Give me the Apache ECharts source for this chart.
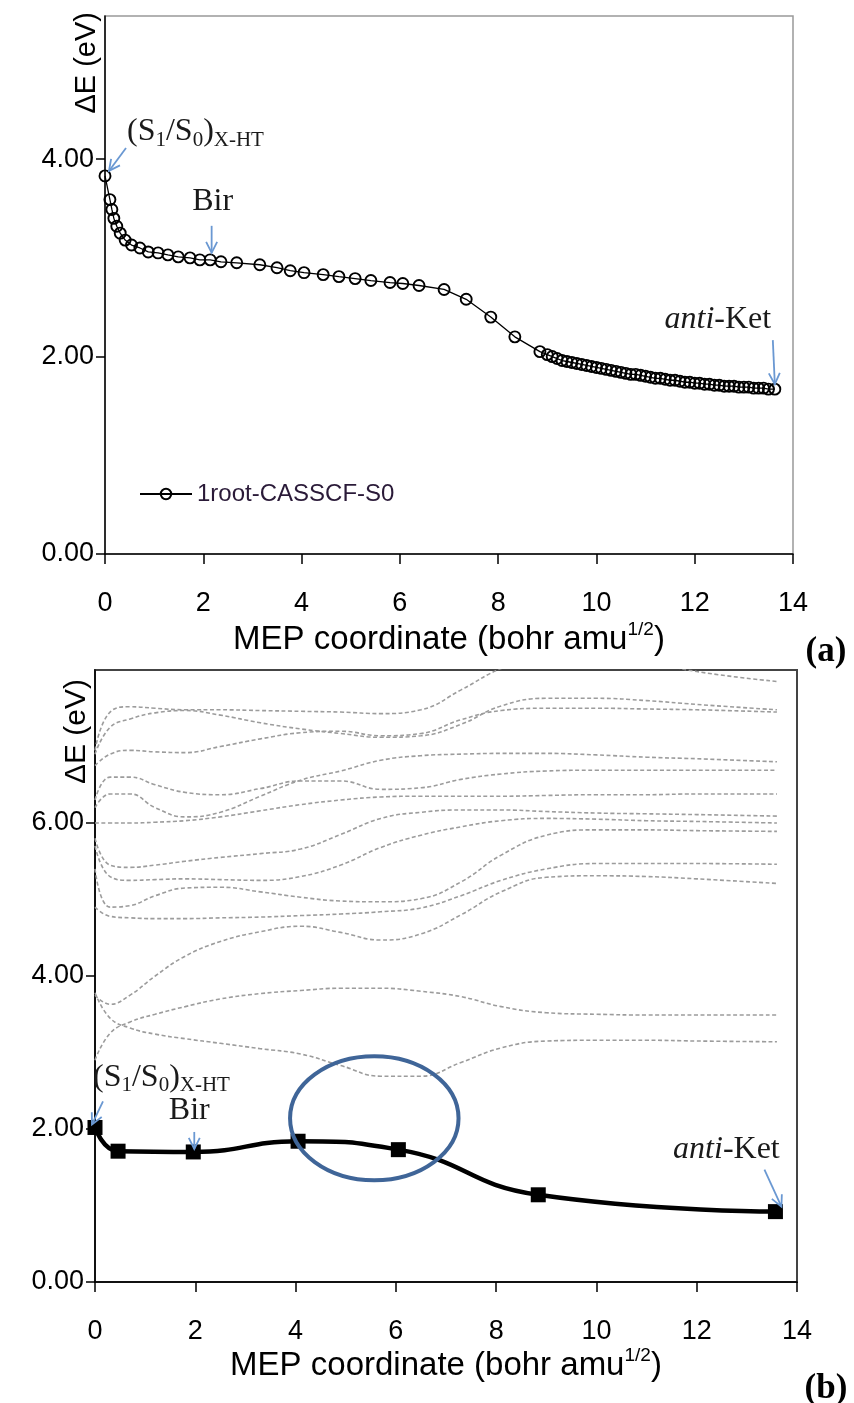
<!DOCTYPE html>
<html><head><meta charset="utf-8">
<script src="https://cdn.jsdelivr.net/npm/echarts@6/dist/echarts.min.js"></script>
<style>html,body{margin:0;padding:0;background:#fff}#c{width:854px;height:1403px}</style>
</head><body><div id="c"></div>
<script>
// ---------- DATA ----------
// Panel (a): 1root-CASSCF-S0 MEP
const topX = [0, 0.10, 0.14, 0.18, 0.24, 0.31, 0.41, 0.54, 0.71, 0.88, 1.08, 1.28, 1.49, 1.73, 1.93, 2.14, 2.36, 2.68,
  3.15, 3.50, 3.77, 4.05, 4.44, 4.76, 5.09, 5.41, 5.80, 6.06, 6.39, 6.90, 7.35, 7.85, 8.34, 8.85,
  9.0, 9.1, 9.2, 9.3, 9.4, 9.5, 9.6, 9.7, 9.8, 9.9, 10.0, 10.1, 10.2, 10.3, 10.4, 10.5, 10.6, 10.7, 10.8, 10.9,
  11.0, 11.1, 11.2, 11.3, 11.4, 11.5, 11.6, 11.7, 11.8, 11.9, 12.0, 12.1, 12.2, 12.3, 12.4, 12.5, 12.6, 12.7,
  12.8, 12.9, 13.0, 13.1, 13.2, 13.3, 13.4, 13.5, 13.63];
const topS0 = [3.83, 3.59, 3.49, 3.40, 3.32, 3.25, 3.18, 3.13, 3.10, 3.06, 3.05, 3.03, 3.01, 3.00, 2.98, 2.98, 2.96, 2.95,
  2.93, 2.90, 2.87, 2.85, 2.83, 2.81, 2.79, 2.77, 2.75, 2.74, 2.72, 2.68, 2.58, 2.40, 2.20, 2.05,
  2.02, 2.00, 1.98, 1.96, 1.95, 1.94, 1.93, 1.92, 1.91, 1.90, 1.89, 1.88, 1.87, 1.86, 1.85, 1.84, 1.83, 1.82, 1.82, 1.81,
  1.80, 1.79, 1.78, 1.78, 1.77, 1.76, 1.76, 1.75, 1.74, 1.74, 1.73, 1.73, 1.72, 1.72, 1.71, 1.71, 1.70, 1.70,
  1.70, 1.69, 1.69, 1.69, 1.68, 1.68, 1.68, 1.67, 1.67];

// Panel (b): highlighted state (black squares)
const botX = [0, 0.46, 1.96, 4.05, 6.05, 8.84, 13.57];
const botS1 = [2.02, 1.71, 1.70, 1.84, 1.73, 1.14, 0.92];

// Panel (b): other states (grey dashed), sampled at dashX
const dashX = [0, 0.3, 0.7, 1.2, 1.8, 2.5, 3.3, 4.1, 4.9, 5.7, 6.5, 7.3, 8.1, 9.0, 10.0, 11.0, 12.0, 13.6];
const stateU1 = [6.95, 7.45, 7.52, 7.50, 7.48, 7.48, 7.47, 7.46, 7.45, 7.43, 7.48, 7.74, 8.02, 8.20, 8.25, 8.12, 7.98, 7.85];
const stateU2 = [6.90, 7.25, 7.36, 7.44, 7.47, 7.41, 7.31, 7.23, 7.17, 7.12, 7.14, 7.29, 7.53, 7.63, 7.63, 7.60, 7.55, 7.48];
const stateU3 = [6.75, 6.90, 6.95, 6.93, 6.92, 7.00, 7.10, 7.18, 7.20, 7.14, 7.17, 7.35, 7.47, 7.50, 7.50, 7.49, 7.48, 7.45];
const stateM1 = [6.20, 6.38, 6.38, 6.20, 6.08, 6.14, 6.35, 6.56, 6.68, 6.82, 6.88, 6.90, 6.91, 6.91, 6.89, 6.86, 6.84, 6.80];
const stateM2 = [6.30, 6.60, 6.60, 6.50, 6.40, 6.37, 6.45, 6.55, 6.55, 6.44, 6.46, 6.57, 6.64, 6.68, 6.69, 6.69, 6.69, 6.69];
const stateM3 = [6.00, 6.00, 6.00, 6.01, 6.03, 6.08, 6.16, 6.24, 6.30, 6.34, 6.35, 6.35, 6.35, 6.36, 6.37, 6.37, 6.38, 6.38];
const stateM4 = [5.80, 5.45, 5.42, 5.45, 5.50, 5.55, 5.60, 5.66, 5.85, 6.06, 6.14, 6.17, 6.17, 6.15, 6.13, 6.12, 6.11, 6.09];
const stateM5 = [5.70, 5.30, 5.25, 5.26, 5.27, 5.26, 5.25, 5.30, 5.45, 5.68, 5.84, 5.95, 6.03, 6.06, 6.05, 6.03, 6.02, 6.00];
const stateM6 = [5.40, 4.90, 4.92, 5.05, 5.15, 5.16, 5.10, 5.03, 4.98, 4.97, 5.01, 5.23, 5.58, 5.84, 5.91, 5.91, 5.90, 5.89];
const stateM7 = [4.90, 4.78, 4.76, 4.75, 4.75, 4.76, 4.77, 4.79, 4.81, 4.84, 4.89, 5.05, 5.25, 5.40, 5.47, 5.47, 5.47, 5.46];
const stateM8 = [3.75, 3.63, 3.75, 4.00, 4.26, 4.45, 4.58, 4.65, 4.57, 4.47, 4.55, 4.80, 5.10, 5.29, 5.31, 5.30, 5.27, 5.21];
const stateP  = [2.90, 3.25, 3.40, 3.50, 3.60, 3.70, 3.77, 3.81, 3.84, 3.84, 3.80, 3.73, 3.60, 3.52, 3.50, 3.49, 3.49, 3.49];
const stateQ  = [3.78, 3.45, 3.32, 3.24, 3.18, 3.12, 3.05, 2.98, 2.83, 2.69, 2.69, 2.87, 3.06, 3.15, 3.16, 3.16, 3.15, 3.14];

// Ticks
const xTicks = [0, 2, 4, 6, 8, 10, 12, 14];
const yTicksTop = [0, 2, 4];
const yTicksBot = [0, 2, 4, 6];

// Annotation anchors (data coords)
const annoTop = { xht: [0, 3.83], bir: [2.17, 2.98], ket: [13.63, 1.67] };
const annoBot = { xht: [0, 2.02], bir: [1.96, 1.70], ket: [13.57, 0.92] };
const ellipseCenter = [5.57, 2.14], ellipseRadii = [1.68, 0.81];

// ---------- CHART ----------
const SANS = 'Liberation Sans', SERIF = 'Liberation Serif';
const chart = echarts.init(document.getElementById('c'), null, { renderer: 'canvas' });

function xAxisCfg(gi, gap) {
  return {
    gridIndex: gi, type: 'value', min: 0, max: 14, interval: 2,
    axisLine: { show: true, onZero: false, lineStyle: { color: '#000', width: 1.5 } },
    axisTick: { show: true, length: 10, lineStyle: { color: '#000', width: 1.5 }, customValues: xTicks },
    axisLabel: { margin: 36, fontSize: 27, fontFamily: SANS, color: '#000', customValues: xTicks },
    splitLine: { show: false },
    name: 'MEP coordinate (bohr amu{sup|1/2})', nameLocation: 'middle', nameGap: gap,
    nameTextStyle: { fontFamily: SANS, fontSize: 33, color: '#000', lineHeight: 40,
      rich: { sup: { fontFamily: SANS, fontSize: 19, lineHeight: 19, verticalAlign: 'top', color: '#000' } } }
  };
}
function yAxisCfg(gi, max, ticks) {
  return {
    gridIndex: gi, type: 'value', min: 0, max: max,
    axisLine: { show: true, onZero: false, lineStyle: { color: '#000', width: 1.5 } },
    axisTick: { show: true, length: 9, lineStyle: { color: '#000', width: 1.5 }, customValues: ticks },
    axisLabel: { margin: 11, fontSize: 27, fontFamily: SANS, color: '#000', customValues: ticks,
      formatter: v => (ticks.indexOf(v) >= 0 ? v.toFixed(2) : '') },
    splitLine: { show: false }
  };
}

const dashStates = [stateU1, stateU2, stateU3, stateM1, stateM2, stateM3, stateM4, stateM5, stateM6, stateM7, stateM8, stateP, stateQ];
const dashSeries = dashStates.map((arr, k) => ({
  type: 'line', name: 'state' + k, xAxisIndex: 1, yAxisIndex: 1, smooth: 0.45, symbol: 'none', silent: true, clip: true,
  lineStyle: { color: '#9c9c9c', width: 1.6, type: [4, 2.5] },
  data: dashX.map((x, i) => [x, arr[i]]), z: 2
}));

chart.setOption({
  animation: false,
  backgroundColor: '#fff',
  grid: [
    { left: 105, top: 16, width: 688, height: 538, show: true, borderColor: '#999', borderWidth: 1.5 },
    { left: 95, top: 670, width: 702, height: 612, show: true, borderColor: '#444', borderWidth: 2 }
  ],
  xAxis: [xAxisCfg(0, 66), xAxisCfg(1, 60)],
  yAxis: [yAxisCfg(0, 5.45, yTicksTop), yAxisCfg(1, 8, yTicksBot)],
  legend: {
    data: ['1root-CASSCF-S0'], left: 139, top: 482, padding: 0, itemWidth: 52, itemHeight: 13, itemGap: 6,
    textStyle: { fontFamily: SANS, fontSize: 24, color: '#2a1a38' }
  },
  series: [
    {
      type: 'line', name: '1root-CASSCF-S0', xAxisIndex: 0, yAxisIndex: 0,
      symbol: 'circle', symbolSize: 11,
      itemStyle: { color: 'rgba(255,255,255,0)', borderColor: '#000', borderWidth: 1.9 },
      lineStyle: { color: '#000', width: 1.3 },
      data: topX.map((x, i) => [x, topS0[i]]), z: 3
    },
    ...dashSeries,
    {
      type: 'line', name: 'S1', xAxisIndex: 1, yAxisIndex: 1, smooth: 0.5,
      symbol: 'rect', symbolSize: 15, itemStyle: { color: '#000' },
      lineStyle: { color: '#000', width: 4.5 },
      data: botX.map((x, i) => [x, botS1[i]]), z: 4
    }
  ]
});

// ---------- ANNOTATIONS ----------
const BLUE = '#6a98d2';
function px(gi, p) { return chart.convertToPixel({ gridIndex: gi }, p); }
function arrow(tip, tail) {
  const dx = tip[0] - tail[0], dy = tip[1] - tail[1];
  const L = Math.hypot(dx, dy), ux = dx / L, uy = dy / L, nx = -uy, ny = ux;
  const hl = 11, hw = 5.5;
  return [
    { type: 'line', shape: { x1: tail[0], y1: tail[1], x2: tip[0], y2: tip[1] }, style: { stroke: BLUE, lineWidth: 1.8 }, z: 50 },
    { type: 'polyline', shape: { points: [[tip[0] - ux * hl + nx * hw, tip[1] - uy * hl + ny * hw], tip, [tip[0] - ux * hl - nx * hw, tip[1] - uy * hl - ny * hw]] },
      style: { stroke: BLUE, lineWidth: 1.8, fill: null }, z: 50 }
  ];
}
function add(p, o) { return [p[0] + o[0], p[1] + o[1]]; }
const richLbl = {
  m: { fontFamily: SERIF, fontSize: 32, lineHeight: 38, fill: '#1a1a1a', verticalAlign: 'middle' },
  s: { fontFamily: SERIF, fontSize: 21, lineHeight: 21, fill: '#1a1a1a', verticalAlign: 'bottom' },
  i: { fontFamily: SERIF, fontSize: 32, lineHeight: 38, fill: '#1a1a1a', fontStyle: 'italic' }
};
function label(pos, text, align) {
  return { type: 'text', x: pos[0], y: pos[1], z: 50,
    style: { text: text, rich: richLbl, fontFamily: SERIF, fontSize: 32, fill: '#1a1a1a', align: align || 'center', verticalAlign: 'middle' } };
}
const XHT = '{m|(S}{s|1}{m|/S}{s|0}{m|)}{s|X-HT}';
const KET = '{i|anti}{m|-Ket}';

const g = [];
// panel a
let a = px(0, annoTop.xht), b = px(0, annoTop.bir), k = px(0, annoTop.ket);
g.push(...arrow(add(a, [4, -5]), add(a, [21, -28])));
g.push(label(add(a, [22, -44]), XHT, 'left'));
g.push(...arrow(add(b, [0, -7]), add(b, [0, -34])));
g.push(label(add(b, [1, -58]), '{m|Bir}'));
g.push(...arrow(add(k, [0, -5]), add(k, [-2, -49])));
g.push(label(add(k, [-57, -70]), KET));
// panel b
a = px(1, annoBot.xht); b = px(1, annoBot.bir); k = px(1, annoBot.ket);
g.push(...arrow(add(a, [-3, -3]), add(a, [8, -26])));
g.push(label(add(a, [-2, -50]), XHT, 'left'));
g.push(...arrow(add(b, [1, -3]), add(b, [1, -20])));
g.push(label(add(b, [-4, -41]), '{m|Bir}'));
g.push(...arrow(add(k, [6, -5]), add(k, [-11, -42])));
g.push(label(add(k, [-49, -62]), KET));
// ellipse
const ec = px(1, ellipseCenter);
const er = px(1, [ellipseCenter[0] + ellipseRadii[0], ellipseCenter[1] + ellipseRadii[1]]);
g.push({ type: 'ellipse', shape: { cx: ec[0], cy: ec[1], rx: Math.abs(er[0] - ec[0]), ry: Math.abs(ec[1] - er[1]) },
  style: { stroke: '#3f6598', lineWidth: 4, fill: null }, z: 60 });
// y axis names
g.push({ type: 'text', x: 87, y: 12, rotation: Math.PI / 2, z: 50,
  style: { text: 'ΔE (eV)', fontFamily: SANS, fontSize: 29, fill: '#000', align: 'right', verticalAlign: 'middle' } });
g.push({ type: 'text', x: 77, y: 679, rotation: Math.PI / 2, z: 50,
  style: { text: 'ΔE (eV)', fontFamily: SANS, fontSize: 30, fill: '#000', align: 'right', verticalAlign: 'middle' } });
// panel letters
g.push({ type: 'text', x: 826, y: 652, z: 50, style: { text: '(a)', fontFamily: SERIF, fontWeight: 'bold', fontSize: 35, fill: '#000', align: 'center', verticalAlign: 'middle' } });
g.push({ type: 'text', x: 826, y: 1389, z: 50, style: { text: '(b)', fontFamily: SERIF, fontWeight: 'bold', fontSize: 35, fill: '#000', align: 'center', verticalAlign: 'middle' } });

chart.setOption({ graphic: g });
</script></body></html>
